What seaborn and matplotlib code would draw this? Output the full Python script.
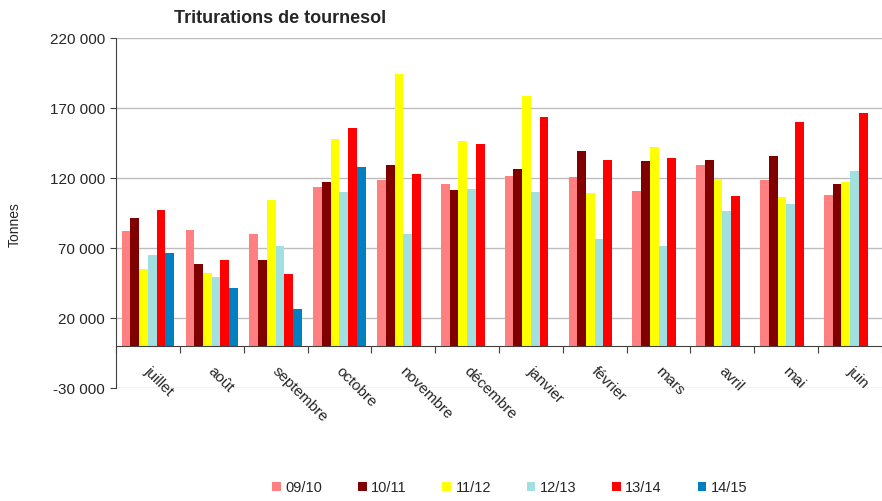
import numpy as np
import pandas as pd
import matplotlib
matplotlib.use('Agg')
import matplotlib.pyplot as plt
from matplotlib.ticker import FuncFormatter
import seaborn as sns

mois = ['juillet', 'août', 'septembre', 'octobre', 'novembre', 'décembre',
        'janvier', 'février', 'mars', 'avril', 'mai', 'juin']
saisons = ['09/10', '10/11', '11/12', '12/13', '13/14', '14/15']
couleurs = ['#FF8080', '#800000', '#FFFF00', '#A0E0E0', '#FF0000', '#0080C0']

v0910 = [82500, 82900, 80000, 113600, 118600, 115500, 121200, 120700, 110700, 129300, 118300, 107900]
v1011 = [91400, 58600, 61400, 117100, 129300, 111400, 126400, 139300, 132100, 132900, 135700, 115700]
v1112 = [55000, 52100, 104300, 147900, 194300, 146400, 178600, 109300, 142100, 119300, 106400, 117100]
v1213 = [65000, 49300, 71400, 110000, 80000, 112100, 110000, 76400, 71400, 96400, 101400, 125000]
v1314 = [97100, 61400, 51400, 155700, 122900, 144300, 163600, 132900, 134300, 107100, 160000, 166400]
v1415 = [66400, 41400, 26400, 127900, np.nan, np.nan, np.nan, np.nan, np.nan, np.nan, np.nan, np.nan]

series = [v0910, v1011, v1112, v1213, v1314, v1415]
df = pd.DataFrame({
    'mois': mois * len(saisons),
    'saison': np.repeat(saisons, len(mois)),
    'tonnes': np.concatenate(series),
})

sns.set_style('white')
plt.rcParams['font.family'] = ['Liberation Sans', 'DejaVu Sans']

fig = plt.figure(figsize=(8.82, 5.01), dpi=100)
ax = fig.add_axes([116 / 882, 1 - 388 / 501, 766 / 882, 350 / 501])

sns.barplot(data=df, x='mois', y='tonnes', hue='saison', order=mois,
            hue_order=saisons, palette=couleurs, width=0.82, saturation=1,
            edgecolor='none', linewidth=0, ax=ax, errorbar=None)

ax.set_ylim(-30000, 220000)
ax.set_xlim(-0.5, 11.41)
ax.set_yticks([-30000, 20000, 70000, 120000, 170000, 220000])
ax.yaxis.set_major_formatter(FuncFormatter(lambda v, p: f'{int(v):,}'.replace(',', ' ')))
ax.yaxis.grid(True, color='#BDBDBD', linewidth=1)
ax.set_axisbelow(True)
ax.tick_params(axis='y', left=True, length=4, color='#404040', labelsize=11, pad=4)

ax.spines['top'].set_visible(False)
ax.spines['right'].set_visible(False)
ax.spines['left'].set_color('#404040')
ax.spines['bottom'].set_position(('data', 0))
ax.spines['bottom'].set_color('#404040')

# ticks between groups, labels at centres
ax.set_xticks(np.arange(-0.5, 12, 1))
ax.set_xticklabels([])
ax.tick_params(axis='x', which='major', bottom=True, length=5, direction='out', color='#404040')
ax.set_xticks(np.arange(12) + 0.06, minor=True)
ax.set_xticklabels(mois, minor=True, rotation=-45, ha='left', va='top',
                   rotation_mode='anchor', fontsize=11)
ax.tick_params(axis='x', which='minor', length=0, pad=13)

ax.set_xlabel('')
ax.set_ylabel('Tonnes', fontsize=10)
ax.yaxis.set_label_coords(-0.123, 0.466)

fig.text(0.318, 0.963, 'Triturations de tournesol', ha='center', va='center',
         fontsize=13, fontweight='bold')

handles, labels = ax.get_legend_handles_labels()
ax.legend(handles, labels, loc='center', bbox_to_anchor=(0.578, 0.026),
          bbox_transform=fig.transFigure, ncol=6, frameon=False, fontsize=10.5,
          handlelength=0.6, handleheight=0.6, handletextpad=0.3, columnspacing=2.45)

fig.savefig('out.png', dpi=100)
